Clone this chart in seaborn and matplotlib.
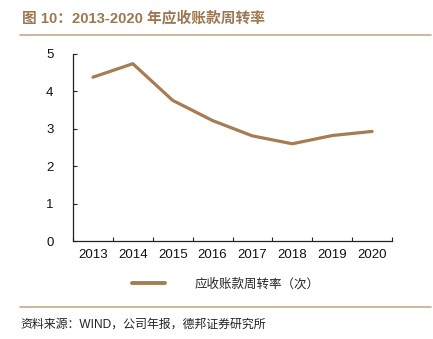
import matplotlib
matplotlib.use("Agg")
import matplotlib.pyplot as plt
from matplotlib.lines import Line2D
from matplotlib.ticker import FixedLocator, NullFormatter
import seaborn as sns
import pandas as pd

years = ["2013", "2014", "2015", "2016", "2017", "2018", "2019", "2020"]
turnover = [4.38, 4.74, 3.76, 3.22, 2.81, 2.60, 2.82, 2.93]
series_label = "应收账款周转率（次）"
title_text = "图 10：2013-2020 年应收账款周转率"
source_text = "资料来源：WIND，公司年报，德邦证券研究所"

sns.set_theme(style="white")
plt.rcParams["font.family"] = ["Liberation Sans", "Noto Sans CJK SC", "DejaVu Sans"]

line_color = "#A67C52"
accent = "#9C7752"
rule_color = "#C9A98A"

df = pd.DataFrame({"idx": range(len(years)), "year": years, "value": turnover})

fig = plt.figure(figsize=(4.33, 3.39), dpi=100)
ax = fig.add_axes([73 / 433, 1 - 241 / 339, (392 - 73) / 433, (241 - 54) / 339])

sns.lineplot(data=df, x="idx", y="value", ax=ax, color=line_color, linewidth=2.3,
             legend=False)

ax.set_xlim(-0.5, len(years) - 0.5)
ax.set_ylim(0, 5)
ax.set_xticks(range(len(years)))
ax.set_xticklabels(years)
ax.xaxis.set_minor_locator(FixedLocator([i - 0.5 for i in range(len(years) + 1)]))
ax.xaxis.set_minor_formatter(NullFormatter())
ax.set_yticks(range(0, 6))
ax.set_xlabel("")
ax.set_ylabel("")

for s in ["top", "right"]:
    ax.spines[s].set_visible(False)
for s in ["left", "bottom"]:
    ax.spines[s].set_color("#222222")
    ax.spines[s].set_linewidth(0.9)

ax.tick_params(axis="x", which="major", length=0, pad=6, labelsize=9.5, colors="#111111")
ax.tick_params(axis="x", which="minor", direction="in", length=3, width=0.8,
               color="#222222", bottom=True)
ax.tick_params(axis="y", which="major", direction="in", length=3, width=0.8,
               color="#222222", left=True, pad=14, labelsize=9.5, labelcolor="#111111")

handle = Line2D([0], [0], color=line_color, linewidth=2.8)
fig.legend([handle], [series_label], loc="center", bbox_to_anchor=(0.522, 0.162),
           frameon=False, handlelength=2.6, handletextpad=2.4,
           prop={"family": ["Noto Sans CJK SC"], "size": 9})

fig.text(22 / 433, 1 - 18 / 339, title_text, ha="left", va="center",
         fontsize=10.6, fontweight="bold", color=accent,
         family=["Liberation Sans", "Noto Sans CJK SC"])
fig.add_artist(Line2D([20 / 433, 431 / 433], [1 - 35 / 339] * 2,
                      color=rule_color, linewidth=1.2))
fig.add_artist(Line2D([20 / 433, 431 / 433], [1 - 307 / 339] * 2,
                      color=rule_color, linewidth=1.2))
fig.text(20 / 433, 1 - 325 / 339, source_text, ha="left", va="center",
         fontsize=8.6, color="#222222", family=["Liberation Sans", "Noto Sans CJK SC"])

fig.savefig("out.png", dpi=100)
